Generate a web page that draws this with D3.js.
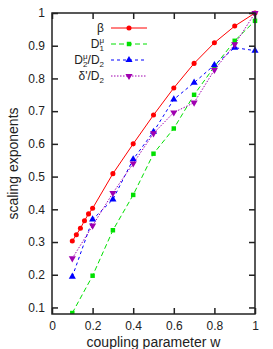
<!DOCTYPE html>
<html>
<head>
<meta charset="utf-8">
<script src="https://cdn.jsdelivr.net/npm/d3@7"></script>
<style>
  body { margin: 0; background: #fff; }
  text { font-family: "Liberation Sans", Arial, sans-serif; fill: #222; }
</style>
</head>
<body>
<div id="chart"></div>
<script>
// data
var wBeta = [0.1, 0.12, 0.14, 0.16, 0.18, 0.2, 0.3, 0.4, 0.5, 0.6, 0.7, 0.8, 0.9, 1.0];
var beta = [0.303, 0.322, 0.342, 0.365, 0.386, 0.403, 0.509, 0.6, 0.688, 0.771, 0.846, 0.909, 0.96, 1.0];

var wOther = [0.1, 0.2, 0.3, 0.4, 0.5, 0.6, 0.7, 0.8, 0.9, 1.0];
var d1 = [0.083, 0.197, 0.336, 0.444, 0.57, 0.647, 0.75, 0.836, 0.915, 0.976];
var d2ratio = [0.194, 0.369, 0.43, 0.553, 0.637, 0.736, 0.787, 0.841, 0.894, 0.885];
var deltaRatio = [0.25, 0.35, 0.45, 0.54, 0.632, 0.696, 0.726, 0.826, 0.904, 1.0];

var xTicks = [0, 0.2, 0.4, 0.6, 0.8, 1];
var yTicks = [0.1, 0.2, 0.3, 0.4, 0.5, 0.6, 0.7, 0.8, 0.9, 1];

var width = 273;
var height = 349;
var margin = { top: 13, right: 18, bottom: 35, left: 52 };
var w = width - margin.left - margin.right;
var h = height - margin.top - margin.bottom;

var xScale = d3.scaleLinear().domain([0, 1]).range([0, w]);
var yScale = d3.scaleLinear().domain([0.08, 1]).range([h, 0]);

var svg = d3.select('#chart').append('svg')
  .attr('width', width).attr('height', height);

var g = svg.append('g')
  .attr('transform', 'translate(' + margin.left + ',' + margin.top + ')');

// series definitions
var series = [
  { xs: wBeta, ys: beta, color: '#ff0000', dash: null, mark: 'circle' },
  { xs: wOther, ys: d1, color: '#00e000', dash: '5,3', mark: 'square' },
  { xs: wOther, ys: d2ratio, color: '#0000ff', dash: '3,3', mark: 'triangle' },
  { xs: wOther, ys: deltaRatio, color: '#a000b0', dash: '1.5,1.5', mark: 'triangleDown' }
];

var symbols = {
  circle: d3.symbol().type(d3.symbolCircle).size(20),
  square: d3.symbol().type(d3.symbolSquare).size(20),
  triangle: d3.symbol().type(d3.symbolTriangle).size(22),
  triangleDown: d3.symbol().type(d3.symbolTriangle).size(22)
};

var line = d3.line()
  .x(function(d) { return xScale(d[0]); })
  .y(function(d) { return yScale(d[1]); });

g.append('defs').append('clipPath').attr('id', 'clip')
  .append('rect').attr('x', -4).attr('y', -4).attr('width', w + 8).attr('height', h + 4);

var plot = g.append('g').attr('clip-path', 'url(#clip)');

series.forEach(function(s) {
  var pts = s.xs.map(function(x, i) { return [x, s.ys[i]]; });
  plot.append('path')
    .datum(pts)
    .attr('fill', 'none')
    .attr('stroke', s.color)
    .attr('stroke-width', 1)
    .attr('stroke-dasharray', s.dash)
    .attr('d', line);
  plot.selectAll(null).data(pts).enter().append('path')
    .attr('d', symbols[s.mark])
    .attr('fill', s.color)
    .attr('transform', function(d) {
      return 'translate(' + xScale(d[0]) + ',' + yScale(d[1]) + ')' + (s.mark === 'triangleDown' ? ' rotate(180)' : '');
    });
});

// axes: ticks inward on all four sides
var tick = 6;
var axisB = g.append('g').attr('transform', 'translate(0,' + h + ')')
  .call(d3.axisBottom(xScale).tickValues(xTicks).tickSize(-tick).tickPadding(7).tickFormat(d3.format('')));
var axisT = g.append('g')
  .call(d3.axisTop(xScale).tickValues(xTicks).tickSize(-tick).tickFormat(''));
var axisL = g.append('g')
  .call(d3.axisLeft(yScale).tickValues(yTicks).tickSize(-tick).tickPadding(7).tickFormat(d3.format('')));
var axisR = g.append('g').attr('transform', 'translate(' + w + ',0)')
  .call(d3.axisRight(yScale).tickValues(yTicks).tickSize(-tick).tickFormat(''));

[axisB, axisT, axisL, axisR].forEach(function(a) {
  a.select('.domain').remove();
  a.selectAll('line').attr('stroke', '#222').attr('stroke-width', 1.5);
  a.selectAll('text').style('font-size', '12px').attr('fill', '#222')
    .style('font-family', '"Liberation Sans", Arial, sans-serif');
});

g.append('rect')
  .attr('width', w).attr('height', h)
  .attr('fill', 'none').attr('stroke', '#222').attr('stroke-width', 1.5);

// axis titles
svg.append('text')
  .attr('x', margin.left + w / 2).attr('y', 347)
  .attr('text-anchor', 'middle').style('font-size', '14px')
  .text('coupling parameter w');

svg.append('text')
  .attr('transform', 'translate(18,' + (margin.top + h / 2) + ') rotate(-90)')
  .attr('text-anchor', 'middle').style('font-size', '14px')
  .text('scaling exponents');

// legend
var legendY = [28, 44, 60, 76];
var legendX = 104;
var leg = svg.append('g');

function sub(t, s) {
  t.append('tspan').attr('dy', 3).style('font-size', '8px').text(s);
}

var labels = [
  function(t) { t.append('tspan').text('β'); },
  function(t) {
    t.append('tspan').text('D');
    sub(t, '1');
    t.append('tspan').attr('dx', -4.5).attr('dy', -8).style('font-size', '8px').text('μ');
  },
  function(t) {
    t.append('tspan').text('D');
    sub(t, '2');
    t.append('tspan').attr('dx', -4.5).attr('dy', -8).style('font-size', '8px').text('μ');
    t.append('tspan').attr('dy', 5).text('/D');
    sub(t, '2');
  },
  function(t) {
    t.append('tspan').text('δ\'/D');
    sub(t, '2');
  }
];

series.forEach(function(s, i) {
  var txt = leg.append('text')
    .attr('x', legendX).attr('y', legendY[i] + 4)
    .attr('text-anchor', 'end').style('font-size', '12px');
  labels[i](txt);
  leg.append('line')
    .attr('x1', 111).attr('x2', 147)
    .attr('y1', legendY[i]).attr('y2', legendY[i])
    .attr('stroke', s.color).attr('stroke-width', 1)
    .attr('stroke-dasharray', s.dash);
  leg.append('path')
    .attr('d', symbols[s.mark])
    .attr('fill', s.color)
    .attr('transform', 'translate(129,' + legendY[i] + ')' + (s.mark === 'triangleDown' ? ' rotate(180)' : ''));
});
</script>
</body>
</html>
